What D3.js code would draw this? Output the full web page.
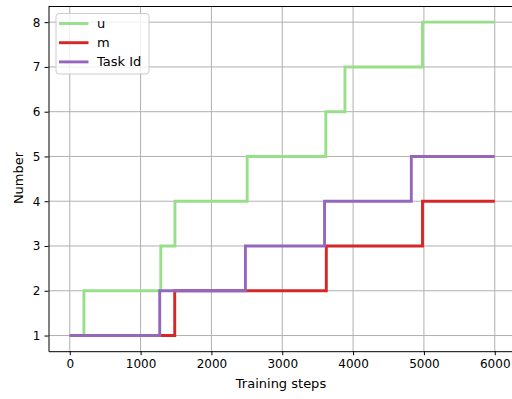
<!DOCTYPE html>
<html>
<head>
<meta charset="utf-8">
<script src="https://cdn.jsdelivr.net/npm/d3@7"></script>
<style>
  body { margin: 0; background: #fff; }
  text { font-family: "DejaVu Sans", sans-serif; }
</style>
</head>
<body>
<script>
// step points (value holds until the next step)
var uSteps = [0, 200, 1285, 1485, 2505, 3615, 3885, 4980, 6000],
    uValues = [1, 2, 3, 4, 5, 6, 7, 8, 8];
var mSteps = [0, 1482, 3622, 4980, 6000],
    mValues = [1, 2, 3, 4, 4];
var taskSteps = [0, 1270, 2480, 3597, 4822, 6000],
    taskValues = [1, 2, 3, 4, 5, 5];

var xTicks = [0, 1000, 2000, 3000, 4000, 5000, 6000];
var yTicks = [1, 2, 3, 4, 5, 6, 7, 8];

var series = [
  {name: "u", steps: uSteps, values: uValues, color: "#98df8a"},
  {name: "m", steps: mSteps, values: mValues, color: "#d62728"},
  {name: "Task Id", steps: taskSteps, values: taskValues, color: "#9467bd"}
];

var margin = {top: 6.5, left: 48.5},
    width = 467.5,
    height = 344.7;

var svg = d3.select("body").append("svg")
    .attr("width", 512)
    .attr("height", 399);

var g = svg.append("g")
    .attr("transform", "translate(" + margin.left + "," + margin.top + ")");

var x = d3.scaleLinear().domain([-300, 6300]).range([0, width]);
var y = d3.scaleLinear().domain([0.65, 8.35]).range([height, 0]);

// grid
g.append("g").selectAll("line")
    .data(xTicks)
  .enter().append("line")
    .attr("x1", function(d) { return x(d); })
    .attr("x2", function(d) { return x(d); })
    .attr("y1", 0).attr("y2", height)
    .attr("stroke", "#b0b0b0").attr("stroke-width", 1);
g.append("g").selectAll("line")
    .data(yTicks)
  .enter().append("line")
    .attr("y1", function(d) { return y(d); })
    .attr("y2", function(d) { return y(d); })
    .attr("x1", 0).attr("x2", width)
    .attr("stroke", "#b0b0b0").attr("stroke-width", 1);

// lines
var line = d3.line()
    .x(function(d) { return x(d[0]); })
    .y(function(d) { return y(d[1]); })
    .curve(d3.curveStepAfter);

series.forEach(function(s) {
  g.append("path")
      .datum(d3.zip(s.steps, s.values))
      .attr("fill", "none")
      .attr("stroke", s.color)
      .attr("stroke-width", 2.9)
      .attr("d", line);
});

// axes
var xAxis = g.append("g")
    .attr("transform", "translate(0," + height + ")")
    .call(d3.axisBottom(x).tickValues(xTicks).tickFormat(d3.format("d"))
      .tickSize(4).tickPadding(4).tickSizeOuter(0));
var yAxis = g.append("g")
    .call(d3.axisLeft(y).tickValues(yTicks).tickFormat(d3.format("d"))
      .tickSize(4).tickPadding(4).tickSizeOuter(0));
[xAxis, yAxis].forEach(function(a) {
  a.selectAll("text").style("font-size", "12px").attr("fill", "#000")
      .style("font-family", "DejaVu Sans");
  a.selectAll(".tick line").attr("stroke", "#000");
  a.select(".domain").attr("stroke", "#000");
});

// top spine
g.append("line")
    .attr("x1", 0).attr("x2", width)
    .attr("y1", 0).attr("y2", 0)
    .attr("stroke", "#000").attr("stroke-width", 1);

// axis labels
svg.append("text")
    .attr("x", 281)
    .attr("y", 388)
    .attr("text-anchor", "middle")
    .style("font-size", "13px")
    .text("Training steps");
svg.append("text")
    .attr("transform", "translate(23,178) rotate(-90)")
    .attr("text-anchor", "middle")
    .style("font-size", "13px")
    .text("Number");

// legend
var legend = svg.append("g");
legend.append("rect")
    .attr("x", 56).attr("y", 13.5)
    .attr("width", 93).attr("height", 60.5)
    .attr("rx", 3)
    .attr("fill", "#fff").attr("fill-opacity", 0.8)
    .attr("stroke", "#ccc");
series.forEach(function(s, i) {
  var yy = 23.5 + i * 19.2;
  legend.append("line")
      .attr("x1", 59).attr("x2", 88.5)
      .attr("y1", yy).attr("y2", yy)
      .attr("stroke", s.color).attr("stroke-width", 2.9);
  legend.append("text")
      .attr("x", 97).attr("y", yy + 4.5)
      .style("font-size", "13px")
      .text(s.name);
});
</script>
</body>
</html>
